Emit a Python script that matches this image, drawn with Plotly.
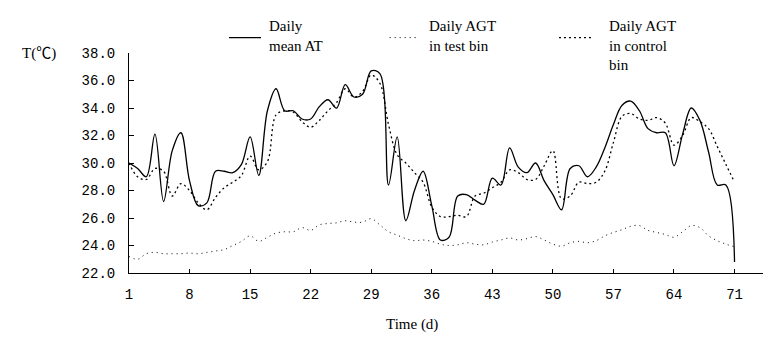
import plotly.graph_objects as go

days = list(range(1, 72))

mean_at = [30.0, 29.6, 29.0, 32.1, 27.2, 30.9, 32.2, 28.7, 26.9, 27.1,
           29.4, 29.4, 29.3, 29.9, 31.9, 29.1, 33.8, 35.4, 33.8, 33.8,
           33.2, 33.2, 34.1, 34.6, 34.0, 35.7, 34.8, 35.0, 36.7, 36.5,
           28.4, 31.9, 25.8, 28.0, 29.4, 26.9, 24.4, 24.6, 27.6, 27.7,
           27.3, 27.0, 28.9, 28.4, 31.1, 29.7, 29.3, 30.0, 28.7, 27.7,
           26.6, 29.6, 29.8, 29.0, 29.7, 31.1, 32.8, 34.2, 34.5, 33.8,
           32.5, 32.2, 32.2, 29.8, 32.1, 34.0, 33.1, 30.8, 28.4, 28.4,
           22.8]

agt_test = [23.2, 23.0, 23.4, 23.5, 23.4, 23.4, 23.4, 23.45, 23.4, 23.5,
            23.6, 23.7, 24.0, 24.3, 24.7, 24.3, 24.6, 24.9, 25.0, 25.0,
            25.3, 25.1, 25.5, 25.6, 25.65, 25.8, 25.7, 25.7, 25.95, 25.5,
            25.0, 24.75, 24.5, 24.35, 24.4, 24.3, 24.1, 24.0, 24.05, 24.2,
            24.1, 24.05, 24.25, 24.4, 24.55, 24.4, 24.5, 24.65, 24.4, 24.1,
            23.95, 24.2, 24.3, 24.2, 24.35, 24.7, 24.95, 25.15, 25.4, 25.45,
            25.1, 24.95, 24.8, 24.6, 25.0, 25.45, 25.3, 24.7, 24.35, 24.1,
            23.9]

agt_control = [30.0, 29.0, 28.8, 29.6, 29.4, 27.6, 28.5, 28.0, 27.1, 26.6,
               27.5, 28.2, 28.6, 29.1, 30.5, 29.5, 30.1, 33.5, 33.8, 33.7,
               33.0, 32.6, 33.1, 33.8, 34.4, 35.4, 34.8, 35.2, 36.4, 35.8,
               32.8, 30.6, 30.0, 29.3, 28.6, 26.8, 26.1, 26.1, 26.2, 26.1,
               27.6, 27.8, 28.2, 28.6, 29.5, 29.3, 28.8, 28.8, 29.8, 30.9,
               27.4, 27.6, 28.6, 28.5, 28.6, 29.4, 31.5, 33.4, 33.6, 33.2,
               33.1, 33.3, 32.9, 31.3, 32.0, 33.3, 33.0, 32.5, 31.2, 29.9,
               28.6]

x_ticks = [1, 8, 15, 22, 29, 36, 43, 50, 57, 64, 71]
y_ticks = [22, 24, 26, 28, 30, 32, 34, 36, 38]

series_names = ["Daily<br>mean AT", "Daily AGT<br>in test bin", "Daily AGT<br>in control<br>bin"]

serif = "Liberation Serif, Times New Roman, serif"
mono = "Liberation Mono, Courier New, monospace"

styles = [
    dict(color="black", width=1.3),
    dict(color="black", width=1, dash="1px,4px"),
    dict(color="black", width=1.3, dash="2px,3px"),
]

fig = go.Figure()
for vals, name, st in zip([mean_at, agt_test, agt_control], series_names, styles):
    fig.add_trace(go.Scatter(x=days, y=vals, mode="lines", name=name, showlegend=False,
                             line=dict(shape="spline", smoothing=1, **st)))

# manual legend (samples + labels) placed above the plot like the original
leg_sample_x = [(0.1538, 0.2031), (0.4010, 0.4420), (0.6615, 0.7138)]
leg_text_x = [0.2120, 0.4590, 0.7354]
shapes = []
annotations = []
for (x0, x1), tx, name, st in zip(leg_sample_x, leg_text_x, series_names, styles):
    shapes.append(dict(type="line", xref="paper", yref="paper", x0=x0, x1=x1,
                       y0=1.07, y1=1.07, line=st))
    annotations.append(dict(text=name, xref="paper", yref="paper", x=tx, y=1.17,
                            xanchor="left", yanchor="top", align="left", showarrow=False,
                            font=dict(family=serif, size=15, color="black")))

annotations += [
    dict(text="T(℃)", xref="paper", yref="paper", x=-0.168, y=1.0,
         xanchor="left", yanchor="middle", showarrow=False,
         font=dict(family="Liberation Serif, Noto Sans CJK SC", size=15, color="black")),
    dict(text="Time (d)", xref="paper", yref="paper", x=0.435, y=-0.235,
         xanchor="center", yanchor="middle", showarrow=False,
         font=dict(family=serif, size=15, color="black")),
]

fig.update_layout(
    width=771, height=337,
    margin=dict(l=121, r=0, t=45, b=72, autoexpand=False),
    paper_bgcolor="white", plot_bgcolor="white",
    showlegend=False,
    shapes=shapes,
    annotations=annotations,
    xaxis=dict(range=[1, 76.14], tickmode="array", tickvals=x_ticks,
               ticktext=[str(v) for v in x_ticks],
               ticks="inside", ticklen=4, tickcolor="black", tickwidth=1,
               showline=True, linecolor="black", linewidth=1,
               showgrid=False, zeroline=False, automargin=False,
               tickfont=dict(family=mono, size=14, color="black"),
               ticklabelstandoff=8),
    yaxis=dict(range=[22, 38], tickmode="array", tickvals=y_ticks,
               tickformat=".1f",
               ticks="inside", ticklen=5, tickcolor="black", tickwidth=1,
               showline=True, linecolor="black", linewidth=1,
               showgrid=False, zeroline=False, automargin=False,
               tickfont=dict(family=mono, size=14, color="black"),
               ticklabelstandoff=10),
)

fig.write_html("out.html")
